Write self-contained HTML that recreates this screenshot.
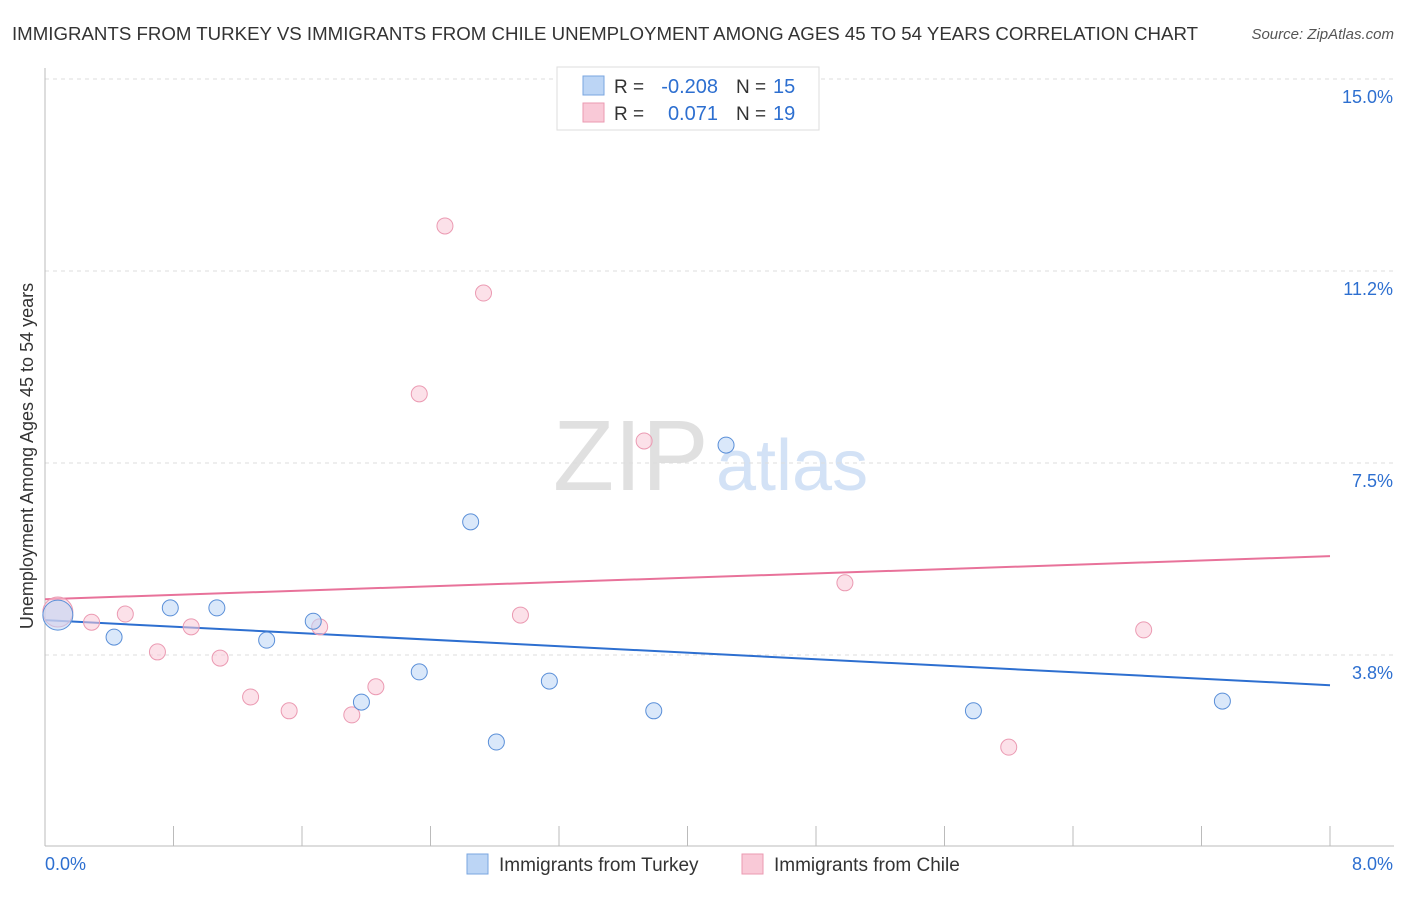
<!DOCTYPE html>
<html><head><meta charset="utf-8"><style>
body{margin:0;background:#fff;font-family:"Liberation Sans",sans-serif;}
svg text{font-family:"Liberation Sans",sans-serif;}
</style></head><body>
<svg id="c" width="1406" height="892">
<text x="12" y="40" font-size="18" fill="#333" textLength="1186" lengthAdjust="spacingAndGlyphs">IMMIGRANTS FROM TURKEY VS IMMIGRANTS FROM CHILE UNEMPLOYMENT AMONG AGES 45 TO 54 YEARS CORRELATION CHART</text>
<text x="1394" y="39" font-size="15" fill="#555" text-anchor="end" font-style="italic">Source: ZipAtlas.com</text>
<text transform="translate(33,456) rotate(-90)" font-size="18" fill="#333" text-anchor="middle">Unemployment Among Ages 45 to 54 years</text>
<text x="553" y="490" font-size="100" fill="#e0e0e0" font-family="Liberation Serif">ZIP</text>
<text x="716" y="490" font-size="72" fill="#d3e2f6">atlas</text>
<g id="grid"></g><g id="axes"></g><g id="lines"></g><g id="pts"></g>
<g>
<rect x="557" y="67" width="262" height="63" fill="#fff" stroke="#ddd"/>
<rect x="583" y="76" width="21" height="19" fill="#bcd5f5" stroke="#7aa6e0"/>
<rect x="583" y="103" width="21" height="19" fill="#f9c9d7" stroke="#eb9ab2"/>
<text x="614" y="93" font-size="19" fill="#333">R =</text>
<text x="718" y="93" font-size="20" fill="#2d6fd0" text-anchor="end">-0.208</text>
<text x="736" y="93" font-size="19" fill="#333">N =</text>
<text x="773" y="93" font-size="20" fill="#2d6fd0">15</text>
<text x="614" y="120" font-size="19" fill="#333">R =</text>
<text x="718" y="120" font-size="20" fill="#2d6fd0" text-anchor="end">0.071</text>
<text x="736" y="120" font-size="19" fill="#333">N =</text>
<text x="773" y="120" font-size="20" fill="#2d6fd0">19</text>
</g>
<g>
<rect x="467" y="854" width="21" height="20" fill="#bcd5f5" stroke="#7aa6e0"/>
<text x="499" y="871" font-size="19" fill="#333">Immigrants from Turkey</text>
<rect x="742" y="854" width="21" height="20" fill="#f9c9d7" stroke="#eb9ab2"/>
<text x="774" y="871" font-size="19" fill="#333">Immigrants from Chile</text>
</g>
</svg>
<script>
const yTicks=[15.0,11.25,7.5,3.75];
const yTickLabels=["15.0%","11.2%","7.5%","3.8%"];
const turkeyX=[0.08,0.43,0.78,1.07,1.38,1.67,1.97,2.33,2.65,2.81,3.14,3.79,4.24,5.78,7.33];
const turkeyY=[4.53,4.10,4.67,4.67,4.04,4.41,2.83,3.42,6.35,2.05,3.24,2.66,7.85,2.66,2.85];
const chileX=[0.08,0.29,0.50,0.70,0.91,1.09,1.28,1.52,1.71,1.91,2.06,2.33,2.49,2.73,2.96,3.73,4.98,6.00,6.84];
const chileY=[4.59,4.39,4.55,3.81,4.30,3.69,2.93,2.66,4.30,2.58,3.13,8.85,12.13,10.82,4.53,7.93,5.16,1.95,4.24];
const turkeyTrend=[4.43,3.16];
const chileTrend=[4.84,5.68];
const xs=v=>45+v/8*1285, ys=v=>847-v/15*768;
const NS="http://www.w3.org/2000/svg";
function mk(t,a,p){const e=document.createElementNS(NS,t);for(const k in a)e.setAttribute(k,a[k]);document.getElementById(p).appendChild(e);return e;}
yTicks.forEach((t,i)=>{
 const l=mk('line',{x1:45,x2:1394,y1:ys(t),y2:ys(t),stroke:'#ddd','stroke-dasharray':'4,4'},'grid');
 
 
 const tx=mk('text',{x:1393,y:ys(t)+24,'font-size':18,fill:'#2d6fd0','text-anchor':'end'},'grid');
 tx.textContent=yTickLabels[i];
 
 
});
let ax=mk('line',{x1:45,x2:45,y1:68,y2:846,stroke:'#bbb'},'axes');


ax=mk('line',{x1:45,x2:1394,y1:846,y2:846,stroke:'#bbb'},'axes');


for(let i=1;i<=10;i++){const tk=mk('line',{x1:xs(i*0.8),x2:xs(i*0.8),y1:826,y2:846,stroke:'#bbb'},'axes');
 
 }
let t=mk('text',{x:45,y:870,'font-size':18,fill:'#2d6fd0'},'axes');t.textContent='0.0%';


t=mk('text',{x:1393,y:870,'font-size':18,fill:'#2d6fd0','text-anchor':'end'},'axes');t.textContent='8.0%';


function pts(X,Y,fill,stroke,name){X.forEach((x,i)=>{const c=mk('circle',{cx:xs(x),cy:ys(Y[i]),r:i==0?15:8,fill:fill,stroke:stroke,'fill-opacity':0.55},'pts');
 
 });}
pts(chileX,chileY,'#f9c9d7','#eb9ab2','chile-point');
pts(turkeyX,turkeyY,'#bcd5f5','#5a8fd8','turkey-point');
let L=mk('line',{x1:xs(0),x2:xs(8),y1:ys(turkeyTrend[0]),y2:ys(turkeyTrend[1]),stroke:'#2d6fd0','stroke-width':2},'lines');


L=mk('line',{x1:xs(0),x2:xs(8),y1:ys(chileTrend[0]),y2:ys(chileTrend[1]),stroke:'#e8729a','stroke-width':2},'lines');


</script>
</body></html>
